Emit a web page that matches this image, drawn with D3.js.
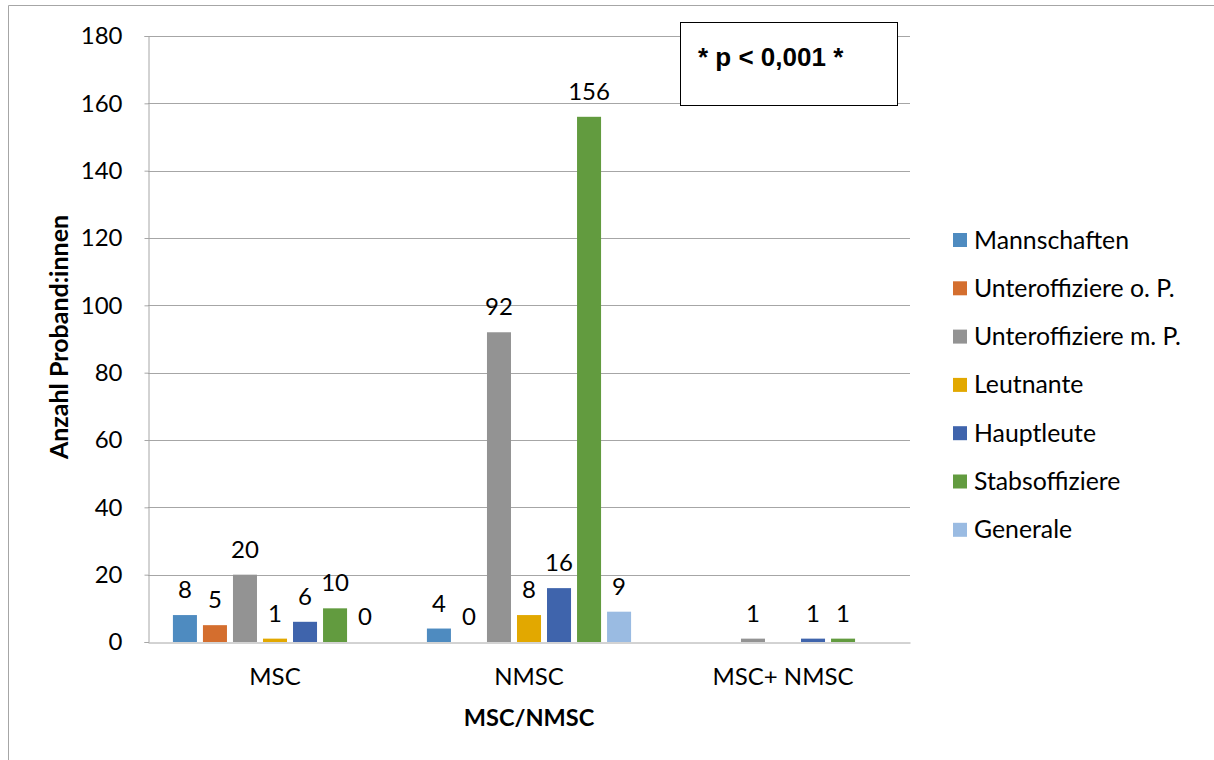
<!DOCTYPE html>
<html><head><meta charset="utf-8">
<script src="https://cdn.jsdelivr.net/npm/d3@7"></script>
<style>body{margin:0;background:#fff}svg{display:block}</style>
</head><body>
<svg id="c" width="1214" height="760"></svg>
<script>
const categories = ["MSC", "NMSC", "MSC+ NMSC"];
const seriesNames = ["Mannschaften", "Unteroffiziere o. P.", "Unteroffiziere m. P.", "Leutnante", "Hauptleute", "Stabsoffiziere", "Generale"];
const seriesColors = ["#4E8BC0", "#D46E2E", "#939393", "#E2A800", "#3F64AC", "#629B3F", "#9ABBE2"];
const mannschaften = [8, 4, null];
const uoffOP = [5, 0, null];
const uoffMP = [20, 92, 1];
const leutnante = [1, 8, null];
const hauptleute = [6, 16, 1];
const stabsoffiziere = [10, 156, 1];
const generale = [0, 9, null];
const yTicks = [0, 20, 40, 60, 80, 100, 120, 140, 160, 180];
const yTitle = "Anzahl Proband:innen";
const xTitle = "MSC/NMSC";
const note = "* p < 0,001 *";

const seriesValues = [mannschaften, uoffOP, uoffMP, leutnante, hauptleute, stabsoffiziere, generale];

const svg = d3.select("#c");
const font = "Lato, 'Open Sans', sans-serif";
const fs = 24;

// outer frame
svg.append("path").attr("d", "M8.5,760 V5.5 H1214").attr("fill", "none").attr("stroke", "#A6A6A6").attr("stroke-width", 1);

const L = 148, R = 910, T = 36, B = 642;
const x0 = d3.scaleBand().domain(categories).range([L, R]).padding(0);
const x1 = d3.scaleBand().domain(seriesNames).range([0, x0.bandwidth()]).paddingInner(0.2).paddingOuter(0.83);
const y = d3.scaleLinear().domain([0, 180]).range([B, T]);

// gridlines
svg.append("g").selectAll("line").data(yTicks.filter(d => d > 0)).join("line")
  .attr("x1", L).attr("x2", R)
  .attr("y1", d => Math.round(y(d)) + 0.5).attr("y2", d => Math.round(y(d)) + 0.5)
  .attr("stroke", "#A6A6A6").attr("stroke-width", 1);

// y axis
const yAxis = d3.axisLeft(y).tickValues(yTicks).tickSize(4).tickPadding(22);
const gy = svg.append("g").attr("transform", `translate(${L + 0.5},0)`).call(yAxis);
gy.select(".domain").attr("stroke", "#A6A6A6");
gy.selectAll(".tick line").attr("stroke", "#A6A6A6");
gy.selectAll("text").attr("font-family", font).attr("font-size", fs).attr("fill", "#000");

// bars
const groups = svg.append("g").selectAll("g").data(categories).join("g")
  .attr("transform", d => `translate(${x0(d)},0)`);
groups.each(function(cat, ci) {
  const g = d3.select(this);
  const items = seriesNames.map((s, si) => ({s, si, v: seriesValues[si][ci]})).filter(d => d.v !== null);
  g.selectAll("rect").data(items).join("rect")
    .attr("x", d => x1(d.s))
    .attr("width", x1.bandwidth())
    .attr("y", d => y(d.v))
    .attr("height", d => y(0) - y(d.v))
    .attr("fill", d => seriesColors[d.si]);
  g.selectAll("text").data(items).join("text")
    .attr("x", d => x1(d.s) + x1.bandwidth() / 2)
    .attr("y", d => y(d.v) - 17)
    .attr("text-anchor", "middle")
    .attr("font-family", font).attr("font-size", fs).attr("fill", "#000")
    .text(d => d.v);
});

// x axis
const xAxis = d3.axisBottom(x0).tickSize(0).tickPadding(25);
const gx = svg.append("g").attr("transform", `translate(0,${B + 0.5})`).call(xAxis);
gx.select(".domain").attr("stroke", "#A6A6A6");
gx.selectAll("text").attr("font-family", font).attr("font-size", fs).attr("fill", "#000");

// titles
svg.append("text").attr("x", (L + R) / 2).attr("y", 726).attr("text-anchor", "middle")
  .attr("font-family", font).attr("font-weight", "bold").attr("font-size", 23.5).text(xTitle);
svg.append("text").attr("transform", `translate(68,${337}) rotate(-90)`).attr("text-anchor", "middle")
  .attr("font-family", font).attr("font-weight", "bold").attr("font-size", 25).text(yTitle);

// note box
svg.append("rect").attr("x", 680.5).attr("y", 22.5).attr("width", 217).attr("height", 83)
  .attr("fill", "#fff").attr("stroke", "#000").attr("stroke-width", 1);
svg.append("text").attr("x", 698).attr("y", 66).attr("font-family", "'Liberation Sans', Arial, sans-serif")
  .attr("font-weight", "bold").attr("font-size", 26).text(note);

// legend
const lg = svg.append("g").selectAll("g").data(seriesNames).join("g")
  .attr("transform", (d, i) => `translate(953,${240 + i * 48.3})`);
lg.append("rect").attr("x", 0).attr("y", -7).attr("width", 14).attr("height", 14).attr("fill", (d, i) => seriesColors[i]);
lg.append("text").attr("x", 21).attr("y", 8.5).attr("font-family", font).attr("font-size", 24.8).text(d => d);
</script>
</body></html>
